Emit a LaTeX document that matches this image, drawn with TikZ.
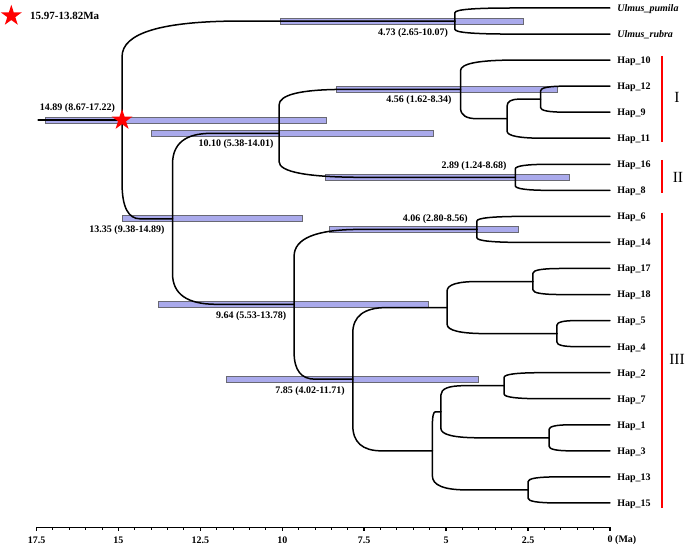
\documentclass[tikz,border=0pt]{standalone}
\usepackage{fontspec}
\setmainfont{Liberation Serif}
\usetikzlibrary{shapes.geometric,calc}

\definecolor{hpdfill}{RGB}{170,170,236}
\definecolor{hpdedge}{RGB}{105,105,115}

% curvature of the branch corners
\newcommand{\curv}{0.36}
\newcommand{\branch}[2]{%
  \draw[treeline] let \p1=(#1), \p2=(#2) in
    (\x1,\y1) -- (\x1,{\y1+(\y2-\y1)*(1-\curv)})
    .. controls (\x1,{\y1+(\y2-\y1)*(1-\curv/3)}) and ({\x1+(\x2-\x1)*\curv/3},\y2)
    .. ({\x1+(\x2-\x1)*\curv},\y2) -- (\x2,\y2);}
% 95% HPD bar: row, lower, upper
\newcommand{\hpd}[3]{\draw[hpdbar] ([yshift=3pt]#2,#1) rectangle ([yshift=-3pt]#3,#1);}

\begin{document}
\begin{tikzpicture}[x={(-32.77pt,0pt)},y={(0pt,-26.05pt)},
  treeline/.style={line width=1.5pt,line cap=round},
  hpdbar/.style={draw=hpdedge,fill=hpdfill,line width=0.7pt},
  leaflab/.style={anchor=base west,yshift=-3.4pt,font=\bfseries,inner sep=0pt},
  agelab/.style={font=\bfseries,inner sep=0pt},
  cladebar/.style={red,line width=1.5pt},
  cladelab/.style={font=\fontsize{15.5pt}{15.5pt}\selectfont,inner sep=0pt},
  axisline/.style={line width=1.5pt},
  redstar/.style={star,star points=5,star point ratio=2.6,fill=red,minimum size=22pt,inner sep=0pt}]

\useasboundingbox (18.615,-0.307) rectangle (-2.289,20.69);

% legend
\node[redstar] (legstar) at (18.27,0.30) {};
\node[anchor=west,font=\fontsize{11pt}{11pt}\selectfont\bfseries,inner sep=0pt] (legtext) at (17.70,0.29) {15.97-13.82Ma};

% tips
\coordinate (L0) at (0,0);
\coordinate (L1) at (0,1);
\node[leaflab,font=\bfseries\itshape] (T0) at (-0.22,0) {Ulmus\_pumila};
\node[leaflab,font=\bfseries\itshape] (T1) at (-0.22,1) {Ulmus\_rubra};
\foreach \h [count=\i from 2] in {10,12,9,11,16,8,6,14,17,18,5,4,2,7,1,3,13,15}{
  \coordinate (L\i) at (0,\i);
  \node[leaflab] (T\i) at (-0.22,\i) {Hap\_\h};
}

% internal nodes (age, row)
\coordinate (stem) at (17.45,4.297);
\coordinate (root) at (14.89,4.297);
\coordinate (nU) at (4.73,0.5);
\coordinate (n1335) at (13.35,8.094);
\coordinate (n1010) at (10.10,4.8125);
\coordinate (nI) at (4.56,3.125);
\coordinate (nIa) at (3.14,4.25);
\coordinate (nIb) at (2.12,3.5);
\coordinate (nII) at (2.89,6.5);
\coordinate (n964) at (9.64,11.375);
\coordinate (n406) at (4.06,8.5);
\coordinate (n785) at (7.85,14.25);
\coordinate (nA) at (4.97,11.5);
\coordinate (nA1) at (2.35,10.5);
\coordinate (nA2) at (1.62,12.5);
\coordinate (nB) at (5.42,17);
\coordinate (nC) at (5.16,15.5);
\coordinate (nC1) at (3.23,14.5);
\coordinate (nC2) at (1.86,16.5);
\coordinate (nD) at (2.50,18.5);

% HPD bars
\hpd{0.5}{2.65}{10.07}
\hpd{3.125}{1.62}{8.34}
\hpd{4.8125}{5.38}{14.01}
\hpd{6.5}{1.24}{8.68}
\hpd{8.094}{9.38}{14.89}
\hpd{8.5}{2.80}{8.56}
\hpd{11.375}{5.53}{13.78}
\hpd{14.25}{4.02}{11.71}
\hpd{4.297}{8.67}{17.22}

% branches
\draw[treeline] (stem) -- (root);
\foreach \pa/\ch in {root/nU,root/n1335,nU/L0,nU/L1,n1335/n1010,n1335/n964,
  n1010/nI,n1010/nII,nI/L2,nI/nIa,nIa/nIb,nIa/L5,nIb/L3,nIb/L4,nII/L6,nII/L7,
  n964/n406,n964/n785,n406/L8,n406/L9,n785/nA,n785/nB,nA/nA1,nA/nA2,
  nA1/L10,nA1/L11,nA2/L12,nA2/L13,nB/nC,nB/nD,nC/nC1,nC/nC2,
  nC1/L14,nC1/L15,nC2/L16,nC2/L17,nD/L18,nD/L19}
  \branch{\pa}{\ch};

% node ages
\node[agelab] (a1489) at (16.25,3.84) {14.89 (8.67-17.22)};
\node[agelab] (a473) at (6.01,0.96) {4.73 (2.65-10.07)};
\node[agelab] (a456) at (5.83,3.53) {4.56 (1.62-8.34)};
\node[agelab] (a1010) at (11.41,5.23) {10.10 (5.38-14.01)};
\node[agelab] (a289) at (4.15,6.07) {2.89 (1.24-8.68)};
\node[agelab] (a1335) at (14.74,8.52) {13.35 (9.38-14.89)};
\node[agelab] (a406) at (5.33,8.10) {4.06 (2.80-8.56)};
\node[agelab] (a964) at (10.95,11.82) {9.64 (5.53-13.78)};
\node[agelab] (a785) at (9.155,14.69) {7.85 (4.02-11.71)};

\node[redstar] (rootstar) at (root) {};

% clades
\coordinate (cI1) at (-1.587,1.84);
\coordinate (cI2) at (-1.587,5.14);
\coordinate (cII1) at (-1.587,5.83);
\coordinate (cII2) at (-1.587,7.10);
\coordinate (cIII1) at (-1.587,7.87);
\coordinate (cIII2) at (-1.587,19.19);
\draw[cladebar] (cI1) -- (cI2);
\draw[cladebar] (cII1) -- (cII2);
\draw[cladebar] (cIII1) -- (cIII2);
\node[cladelab] (labI) at (-2.045,3.45) {I};
\node[cladelab] (labII) at (-2.075,6.49) {II};
\node[cladelab] (labIII) at (-2.045,13.51) {III};

% time axis
\coordinate (ax0) at (17.5,19.94);
\coordinate (ax1) at (0,19.94);
\draw[axisline] (ax0) -- (ax1);
\foreach \t in {0,2.5,...,17.5}
  \draw[axisline] (\t,19.94) -- ++(0pt,-4pt);
\foreach \t in {0.5,1,...,17}
  \draw[line width=1pt] (\t,19.94) -- ++(0pt,-2.2pt);
\foreach \t [count=\k] in {17.5,15,12.5,10,7.5,5,2.5}
  \node[agelab] (tl\k) at (\t,20.42) {\t};
\node[agelab,anchor=west] (tl0) at (0.076,20.42) {0 (Ma)};
\end{tikzpicture}
\end{document}
